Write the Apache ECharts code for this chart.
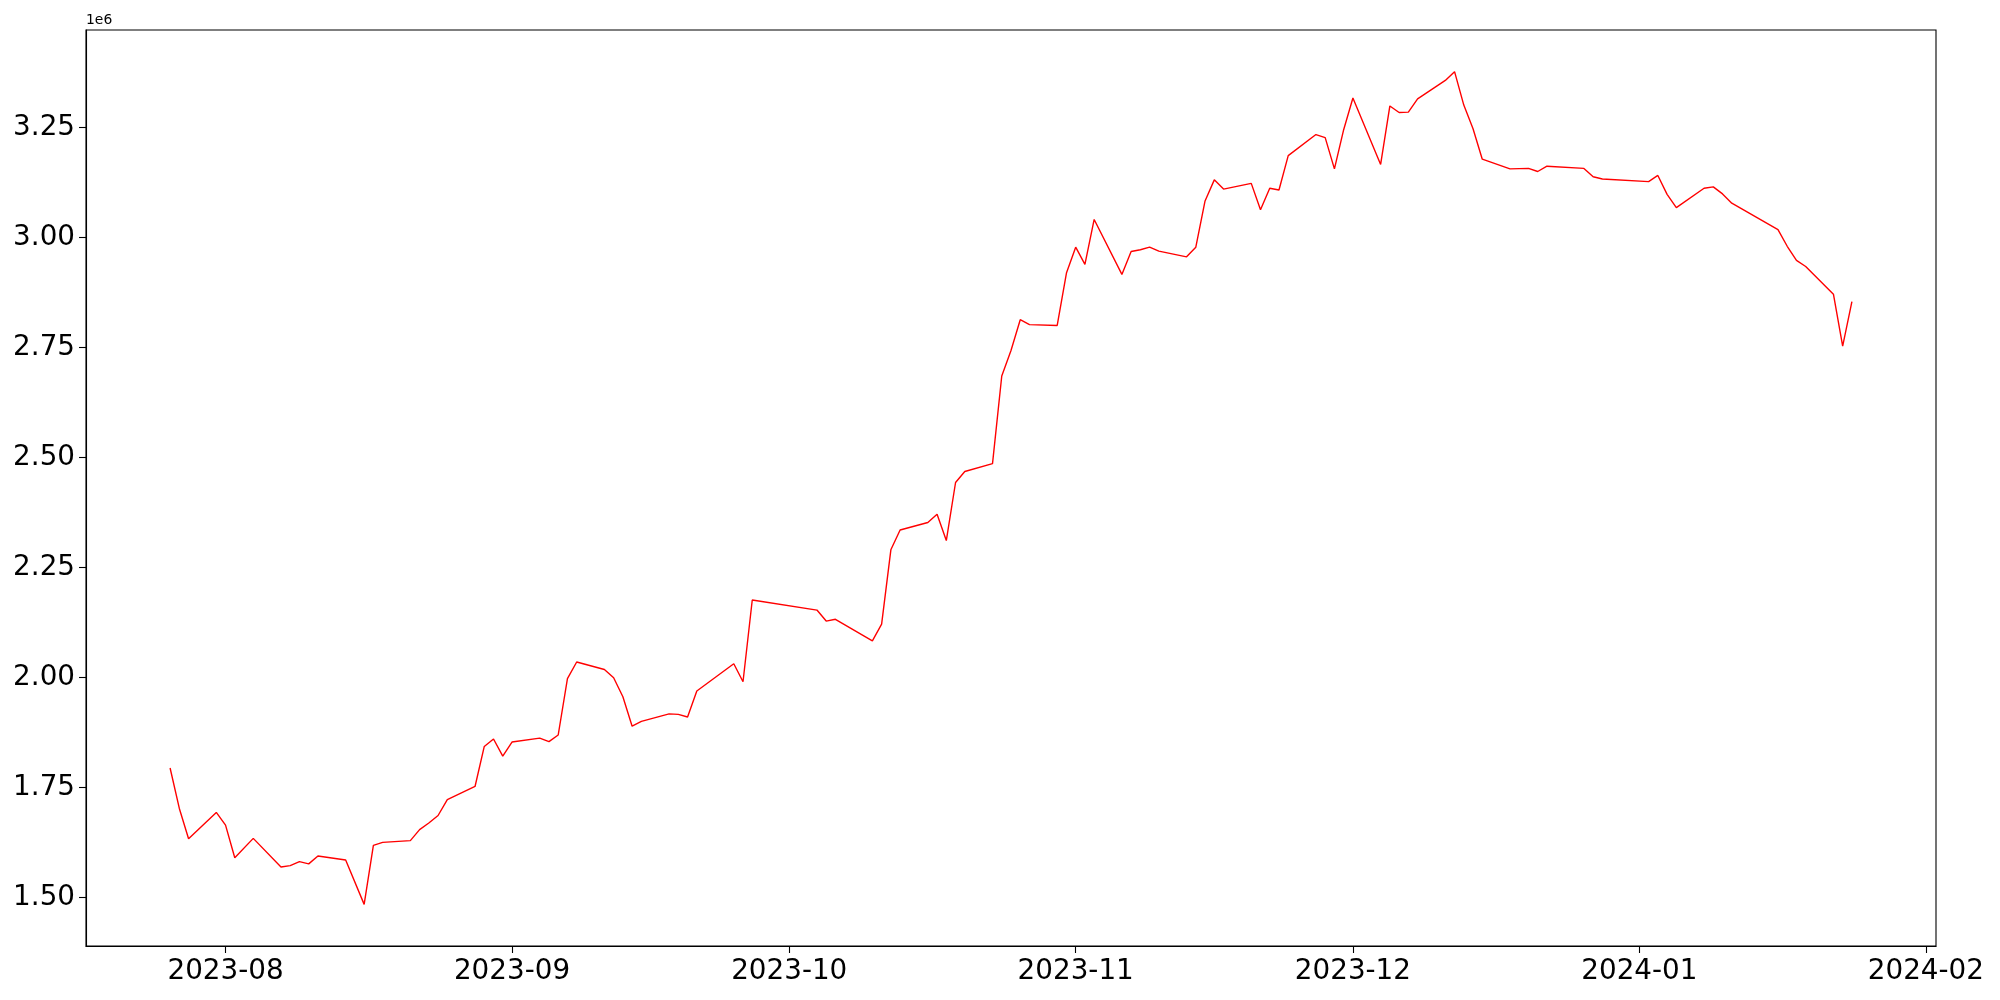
<!DOCTYPE html>
<html>
<head>
<meta charset="utf-8">
<script src="https://cdn.jsdelivr.net/npm/echarts@6/dist/echarts.min.js"></script>
<style>html,body{margin:0;padding:0;background:#fff}#c{width:2000px;height:1000px}</style>
</head>
<body>
<div id="c"></div>
<script>
const dates = ['2023-07-26','2023-07-27','2023-07-28','2023-07-31','2023-08-01','2023-08-02','2023-08-04','2023-08-07','2023-08-08','2023-08-09','2023-08-10','2023-08-11','2023-08-14','2023-08-16','2023-08-17','2023-08-18','2023-08-21','2023-08-22','2023-08-23','2023-08-24','2023-08-25','2023-08-28','2023-08-29','2023-08-30','2023-08-31','2023-09-01','2023-09-04','2023-09-05','2023-09-06','2023-09-07','2023-09-08','2023-09-11','2023-09-12','2023-09-13','2023-09-14','2023-09-15','2023-09-18','2023-09-19','2023-09-20','2023-09-21','2023-09-25','2023-09-26','2023-09-27','2023-10-04','2023-10-05','2023-10-06','2023-10-10','2023-10-11','2023-10-12','2023-10-13','2023-10-16','2023-10-17','2023-10-18','2023-10-19','2023-10-20','2023-10-23','2023-10-24','2023-10-25','2023-10-26','2023-10-27','2023-10-30','2023-10-31','2023-11-01','2023-11-02','2023-11-03','2023-11-06','2023-11-07','2023-11-08','2023-11-09','2023-11-10','2023-11-13','2023-11-14','2023-11-15','2023-11-16','2023-11-17','2023-11-20','2023-11-21','2023-11-22','2023-11-23','2023-11-24','2023-11-27','2023-11-28','2023-11-29','2023-11-30','2023-12-01','2023-12-04','2023-12-05','2023-12-06','2023-12-07','2023-12-08','2023-12-11','2023-12-12','2023-12-13','2023-12-14','2023-12-15','2023-12-18','2023-12-20','2023-12-21','2023-12-22','2023-12-26','2023-12-27','2023-12-28','2024-01-02','2024-01-03','2024-01-04','2024-01-05','2024-01-08','2024-01-09','2024-01-10','2024-01-11','2024-01-16','2024-01-17','2024-01-18','2024-01-19','2024-01-22','2024-01-23','2024-01-24'];
const values = [1794000,1702000,1633000,1693000,1664000,1590000,1634000,1569000,1572000,1581000,1576000,1594000,1585000,1484000,1618000,1625000,1629000,1654000,1669000,1686000,1722000,1752000,1843000,1860000,1821000,1853000,1862000,1854000,1869000,1997000,2035000,2018000,1999000,1956000,1889000,1900000,1917000,1916000,1910000,1969000,2031000,1990000,2176000,2153000,2128000,2132000,2083000,2121000,2290000,2335000,2352000,2371000,2311000,2443000,2468000,2486000,2685000,2743000,2813000,2802000,2800000,2919000,2978000,2939000,3041000,2916000,2968000,2972000,2978000,2969000,2956000,2978000,3083000,3131000,3110000,3123000,3063000,3112000,3108000,3186000,3234000,3227000,3156000,3245000,3317000,3166000,3299000,3284000,3285000,3315000,3357000,3377000,3301000,3247000,3178000,3156000,3157000,3150000,3162000,3157000,3138000,3133000,3127000,3141000,3098000,3068000,3112000,3115000,3099000,3078000,3018000,2980000,2948000,2934000,2871000,2753000,2854000];
const xTickLabels = ['2023-08-01','2023-09-01','2023-10-01','2023-11-01','2023-12-01','2024-01-01','2024-02-01'];
const yTicks = [1500000,1750000,2000000,2250000,2500000,2750000,3000000,3250000];

const toTs = s => new Date(s + 'T00:00:00').getTime();
const data = dates.map((d, i) => [toTs(d), values[i]]);
const xTicks = xTickLabels.map(toTs);
const xMin = toTs(dates[0]) - 9.1 * 86400000;
const xMax = toTs(dates[dates.length - 1]) + 9.1 * 86400000;
const vMin = Math.min(...values), vMax = Math.max(...values);
const pad = (vMax - vMin) * 0.05;

const chart = echarts.init(document.getElementById('c'), null, {renderer: 'canvas'});
const font = 'DejaVu Sans';
chart.setOption({
  animation: false,
  backgroundColor: '#fff',
  grid: {left: 86, right: 64, top: 30, bottom: 54, show: true, borderColor: '#000', borderWidth: 1.1, backgroundColor: 'transparent'},
  xAxis: {
    type: 'value', min: xMin, max: xMax, scale: true,
    axisLine: {show: true, lineStyle: {color: '#000', width: 1.1}},
    axisTick: {show: true, length: 7, lineStyle: {color: '#000', width: 1.1}, customValues: xTicks},
    axisLabel: {show: true, color: '#000', fontFamily: font, fontSize: 27.8, margin: 12, customValues: xTicks,
      formatter: v => { const d = new Date(v); return d.getFullYear() + '-' + String(d.getMonth() + 1).padStart(2, '0'); }},
    splitLine: {show: false}, minorTick: {show: false}
  },
  yAxis: {
    type: 'value', min: vMin - pad, max: vMax + pad, scale: true,
    axisLine: {show: true, lineStyle: {color: '#000', width: 1.1}},
    axisTick: {show: true, length: 7, lineStyle: {color: '#000', width: 1.1}, customValues: yTicks},
    axisLabel: {show: true, color: '#000', fontFamily: font, fontSize: 27.8, margin: 11, customValues: yTicks,
      formatter: v => (v / 1e6).toFixed(2)},
    splitLine: {show: false}
  },
  graphic: [{type: 'text', left: 86, top: 13, style: {text: '1e6', font: '13.9px "DejaVu Sans"', fill: '#000'}}],
  series: [{type: 'line', data: data, showSymbol: false, symbol: 'none', lineStyle: {color: '#ff0000', width: 1.4}, itemStyle: {color: '#ff0000'}}]
});
</script>
</body>
</html>
